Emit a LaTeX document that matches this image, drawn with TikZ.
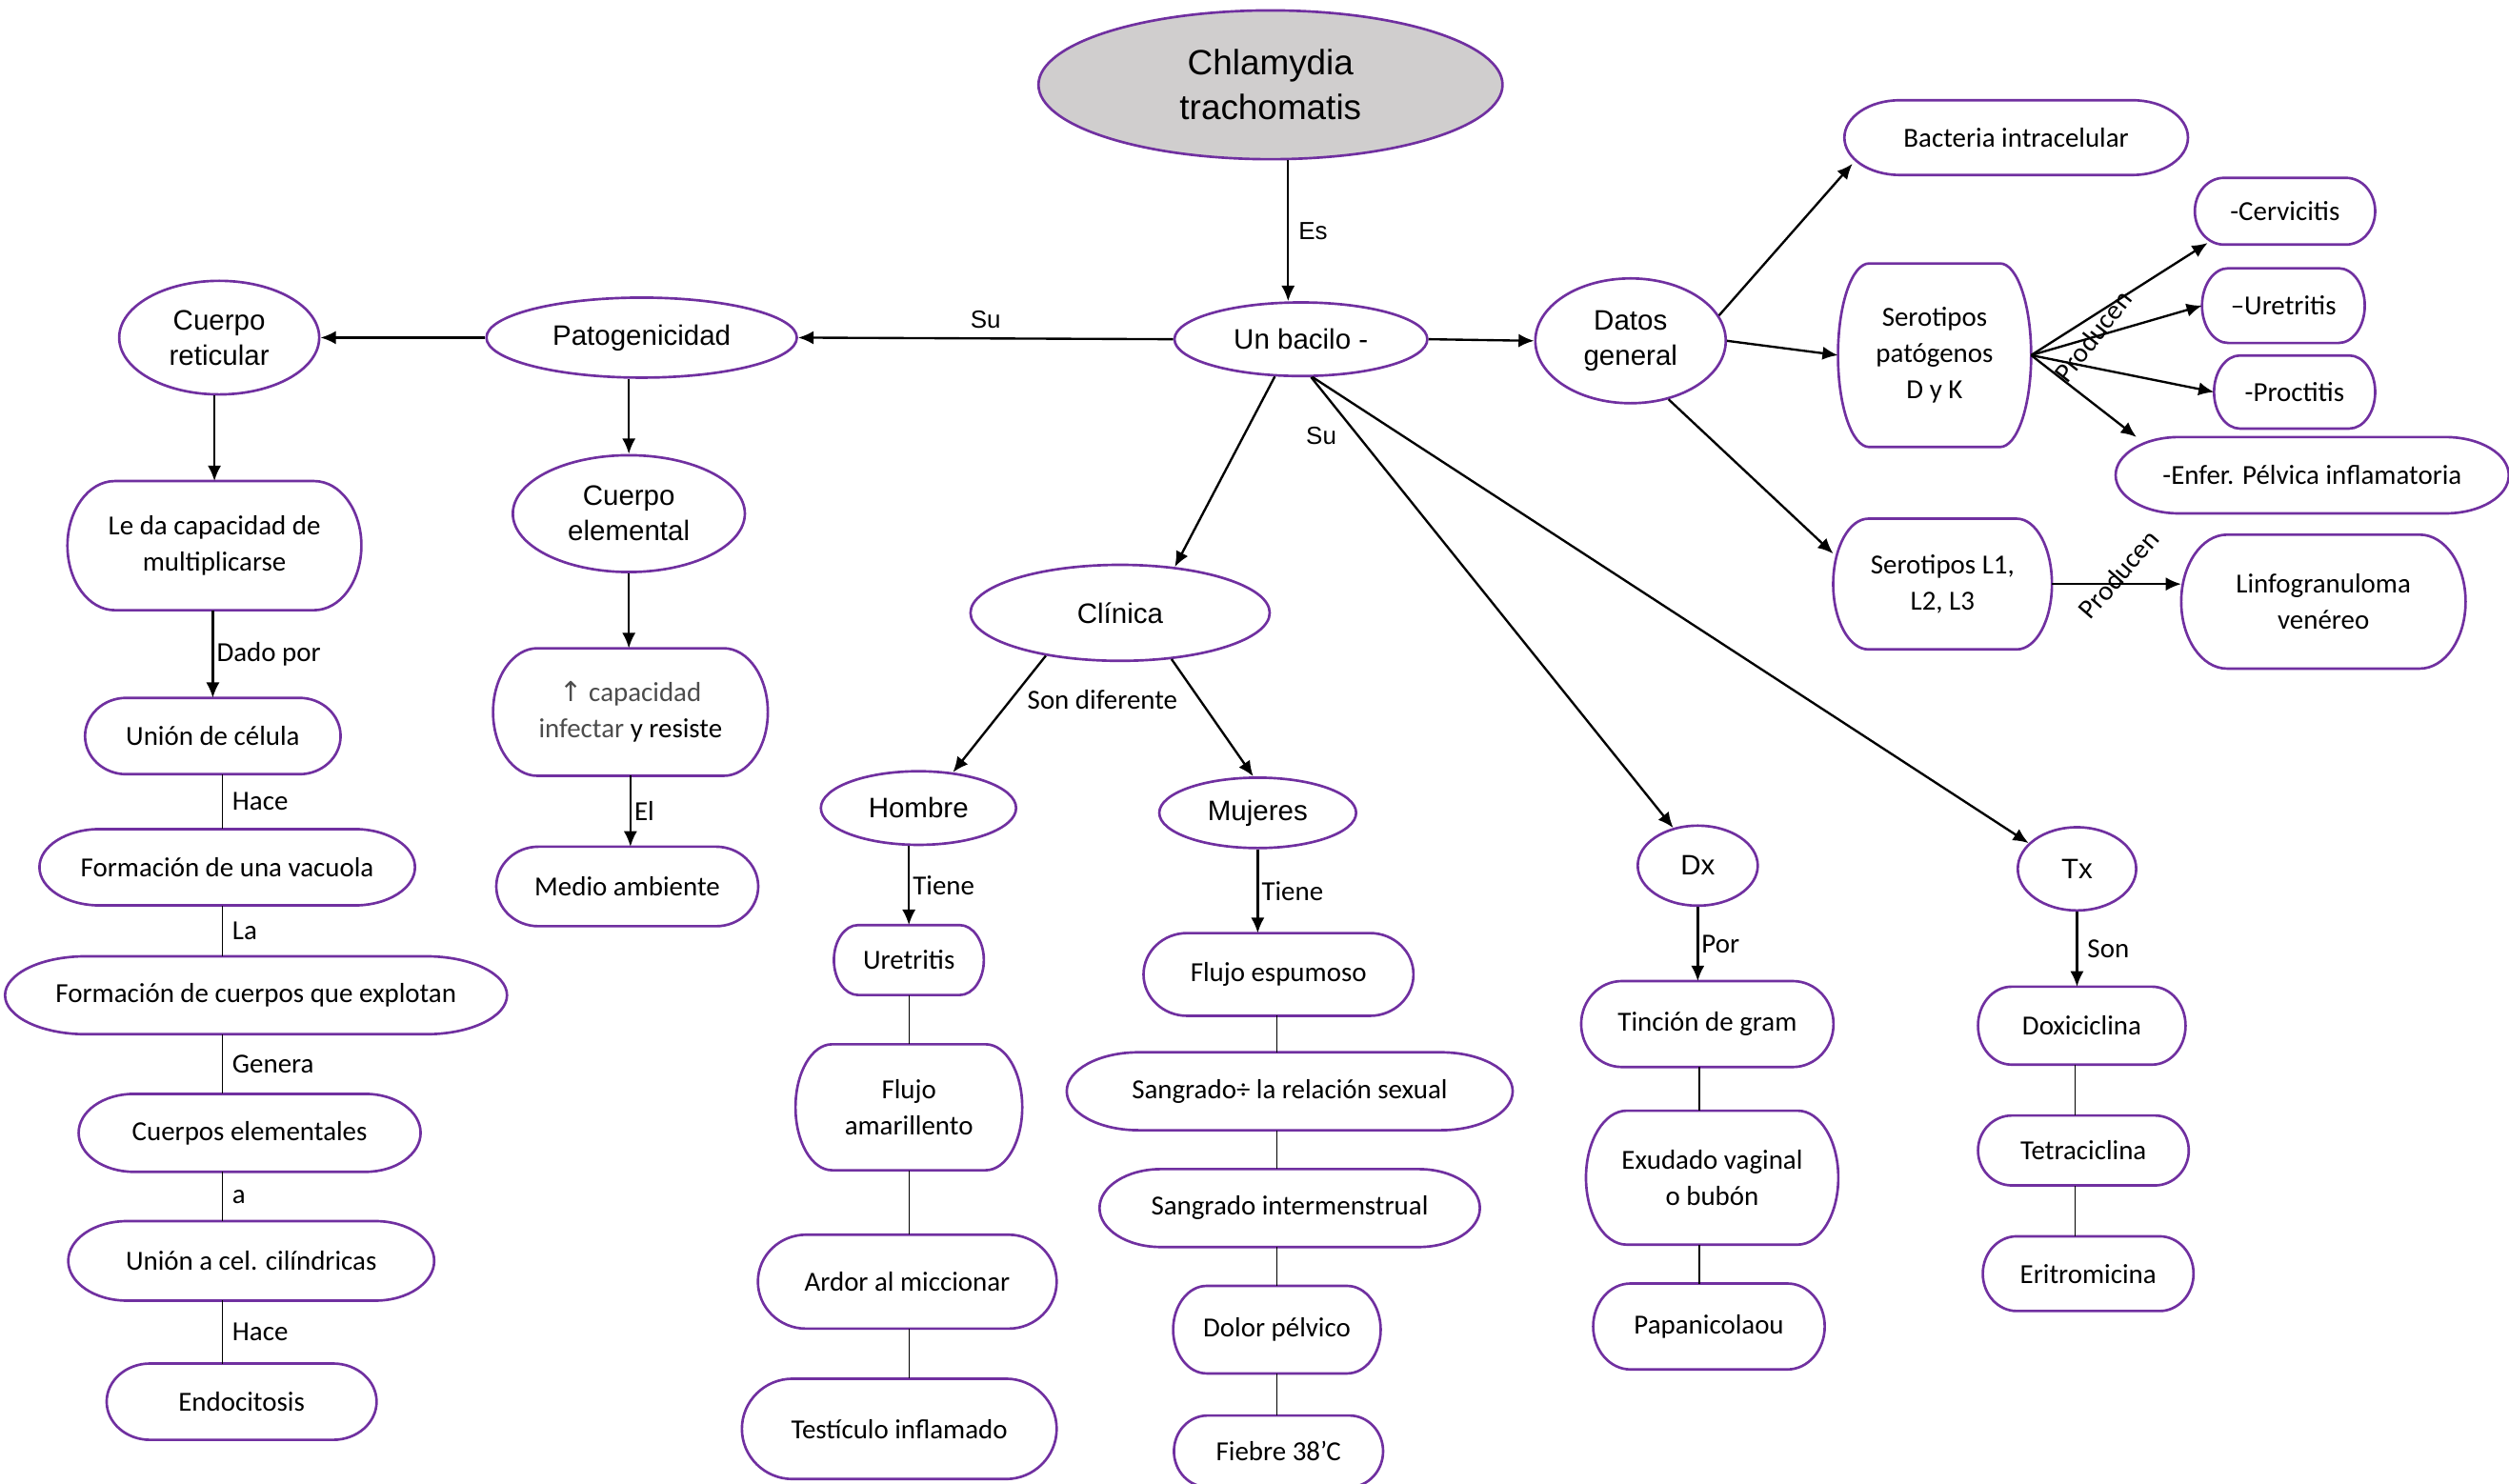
\documentclass[tikz,border=0pt]{standalone}
\usepackage{fontspec}
\setmainfont{Carlito}
\newfontfamily\arialf{Liberation Sans}
\newfontfamily\symf{DejaVu Sans}
\usetikzlibrary{shapes.geometric,calc,arrows.meta}
\definecolor{violeta}{RGB}{112,48,160}
\definecolor{gristit}{RGB}{208,206,206}

\begin{document}
\begin{tikzpicture}[
x=0.02cm, y=-0.02cm,
ell/.style 2 args={
  ellipse,
  draw=violeta,
  line width=0.9pt,
  inner sep=0pt,
  align=center,
  minimum width=#1*0.02cm,
  minimum height=#2*0.02cm,
  font=\arialf\fontsize{10}{12.5}\selectfont
  },
term/.style 2 args={
  rectangle,
  inner sep=0pt,
  align=center,
  minimum width=#1*0.02cm,
  minimum height=#2*0.02cm,
  font=\fontsize{9.8}{13}\selectfont
  },
borde/.style={draw=violeta, line width=0.9pt},
flecha/.style={->, line width=0.8pt},
enlace/.style={line width=0.4pt},
etiq/.style={font=\fontsize{9.8}{12}\selectfont},
etiqa/.style={font=\arialf\fontsize{8.8}{10}\selectfont},
>={Latex[length=5.5pt,width=4.8pt]}
]
\useasboundingbox (0,0) rectangle (1568,927);

% ellipses
\node[ell={290}{93}, fill=gristit, font=\arialf\fontsize{12.5}{15.8}\selectfont]
  (chlam) at (794,53) {Chlamydia\\trachomatis};
\node[ell={158}{46}] (bacilo) at (813,212) {Un bacilo -};
\node[ell={119}{78}] (datos) at (1019,213) {Datos\\general};
\node[ell={194}{50}] (patog) at (401,211) {Patogenicidad};
\node[ell={125}{71}] (reticular) at (137,211) {Cuerpo\\reticular};
\node[ell={145}{73}] (cuerel) at (393,321) {Cuerpo\\elemental};
\node[ell={187}{60}] (clinica) at (700,383) {Clínica};
\node[ell={122}{46}] (hombre) at (574,505) {Hombre};
\node[ell={123}{44}] (mujeres) at (786,508) {Mujeres};
\node[ell={75}{50}] (dx) at (1061,541) {Dx};
\node[ell={74}{52}] (tx) at (1298,543) {Tx};

% cajas
\node[term={214}{46}] (bact) at (1260,86) {Bacteria intracelular};
\node[term={120}{114}] (serdk) at (1209,222) {Serotipos\\patógenos\\D y K};
\node[term={112}{41}] (cerv) at (1428,132) {-Cervicitis};
\node[term={101}{46}] (uret2) at (1427,191) {–Uretritis};
\node[term={100}{45}] (proct) at (1434,245) {-Proctitis};
\node[term={245}{47}] (enfer) at (1445,297) {-Enfer. Pélvica inflamatoria};
\node[term={136}{81}] (serl) at (1214,365) {Serotipos L1,\\L2, L3};
\node[term={177}{83}] (linfo) at (1452,376) {Linfogranuloma\\venéreo};
\node[term={183}{80}] (multi) at (134,341) {Le da capacidad de\\multiplicarse};
\node[term={159}{47}] (ucel) at (133,460) {Unión de célula};
\node[term={234}{47}] (vacuola) at (142,542) {Formación de una vacuola};
\node[term={313}{48}] (explot) at (160,622) {Formación de cuerpos que explotan};
\node[term={213}{48}] (cuerpos) at (156,708) {Cuerpos elementales};
\node[term={228}{49}] (ucil) at (157,788) {Unión a cel. cilíndricas};
\node[term={168}{47}] (endoc) at (151,876) {Endocitosis};
\node[term={171}{79}] (infect) at (394,445)
  {\textcolor{black!70}{{\symf↑} capacidad}\\\textcolor{black!70}{infectar} y resiste};
\node[term={163}{49}] (medio) at (392,554) {Medio ambiente};
\node[term={93}{43}] (ureth) at (568,600) {Uretritis};
\node[term={141}{78}] (flujoam) at (568,692) {Flujo\\amarillento};
\node[term={186}{58}] (ardor) at (567,801) {Ardor al miccionar};
\node[term={196}{62}] (testic) at (562,893) {Testículo inflamado};
\node[term={168}{51}] (flujoes) at (799,609) {Flujo espumoso};
\node[term={278}{48}] (sangrel) at (806,682) {Sangrado÷ la relación sexual};
\node[term={237}{48}] (sangint) at (806,755) {Sangrado intermenstrual};
\node[term={129}{54}] (dolor) at (798,831) {Dolor pélvico};
\node[term={130}{44}] (fiebre) at (799,907) {Fiebre 38’C};
\node[term={157}{53}] (tincion) at (1067,640) {Tinción de gram};
\node[term={157}{83}] (exudado) at (1070,736) {Exudado vaginal\\o bubón};
\node[term={144}{53}] (papa) at (1068,829) {Papanicolaou};
\node[term={129}{48}] (doxi) at (1301,641) {Doxiciclina};
\node[term={131}{43}] (tetra) at (1302,719) {Tetraciclina};
\node[term={131}{46}] (eritro) at (1305,796) {Eritromicina};

\foreach \bx in {bact,serdk,cerv,uret2,proct,enfer,serl,linfo,multi,ucel,vacuola,
    explot,cuerpos,ucil,endoc,infect,medio,ureth,flujoam,ardor,testic,flujoes,
    sangrel,sangint,dolor,fiebre,tincion,exudado,papa,doxi,tetra,eritro}
  \draw[borde] let \p1=(\bx.north east), \p2=(\bx.south west),
    \n1={0.161*(\x1-\x2)}, \n2={0.5*(\y1-\y2)} in
    ($(\bx.north west)+(\n1,0pt)$) -- ($(\bx.north east)-(\n1,0pt)$)
    arc[start angle=90, end angle=-90, x radius=\n1, y radius=\n2]
    -- ($(\bx.south west)+(\n1,0pt)$)
    arc[start angle=270, end angle=90, x radius=\n1, y radius=\n2]
    -- cycle;

\coordinate (coles) at (805,0);
\coordinate (colizq) at (139,0);
\coordinate (colhom) at (568,0);
\coordinate (colmuj) at (798,0);
\coordinate (coldx) at (1062,0);
\coordinate (coltx) at (1297,0);

% centro
\draw[flecha] (chlam.south -| coles) -- (bacilo.north -| coles)
  node[etiqa, midway, right] {Es};
\draw[flecha] (bacilo.west) -- (patog.east) node[etiqa, midway, above] {Su};
\draw[flecha] (bacilo.east) -- (datos.west);
\draw[flecha] (bacilo.235) -- (clinica.40);
\draw[flecha] (bacilo.285) -- (dx.123) node[etiqa, pos=0.13, left=4pt] {Su};
\draw[flecha] (bacilo.287) -- (tx.152);

% patogenicidad
\draw[flecha] (patog.west) -- (reticular.east);
\draw[flecha] (reticular.south -| multi.north) -- (multi.north);
\draw[flecha] (multi.south -| ucel.north) -- (ucel.north)
  node[etiq, midway, right, inner sep=1pt] {Dado por};
\draw[flecha] (patog.south -| cuerel.north) -- (cuerel.north);
\draw[flecha] (cuerel.south) -- (cuerel.south |- infect.north);
\draw[flecha] (infect.south) -- (infect.south |- medio.north)
  node[etiq, midway, right, inner sep=1pt] {El};
\foreach \a/\b/\t in {ucel/vacuola/Hace, vacuola/explot/La, explot/cuerpos/Genera,
    cuerpos/ucil/a, ucil/endoc/Hace}
  \draw[enlace] (\a.south -| colizq) -- (\b.north -| colizq)
    node[etiq, midway, right] {\t};

% datos generales
\draw[flecha] (datos.16) -- ($(bact.south west)+(5,-7)$);
\draw[flecha] (datos.east) -- (serdk.west);
\draw[flecha] (datos.303) -- ($(serl.west)+(0,-19)$);
\draw[flecha] (serdk.east) -- ($(cerv.south west)+(8,-1)$);
\draw[flecha] (serdk.east) -- (uret2.west);
\draw[flecha] (serdk.east) -- (proct.west);
\draw[flecha] (serdk.east) -- ($(enfer.north west)+(13,0)$);
\draw[flecha] (serl.east) -- (serl.east -| linfo.west);
\node[etiq, rotate=52] (prod1) at (1308,210) {Producen};
\node[etiq, rotate=49] (prod2) at (1324,359) {Producen};

% clinica
\draw[flecha] (clinica.210) -- (hombre.46);
\draw[flecha] (clinica.318) -- (mujeres.97);
\node[etiq] (sondif) at (689,437) {Son diferente};
\draw[flecha] (hombre.south -| ureth.north) -- (ureth.north)
  node[etiq, midway, right, inner sep=1pt] {Tiene};
\draw[flecha] (mujeres.south) -- (mujeres.south |- flujoes.north)
  node[etiq, midway, right, inner sep=1pt] {Tiene};

% dx y tx
\draw[flecha] (dx.south) -- (dx.south |- tincion.north)
  node[etiq, midway, right, inner sep=1pt] {Por};
\draw[flecha] (tx.south) -- (tx.south |- doxi.north)
  node[etiq, midway, right] {Son};

\foreach \a/\b/\c in {ureth/flujoam/colhom, flujoam/ardor/colhom, ardor/testic/colhom,
    flujoes/sangrel/colmuj, sangrel/sangint/colmuj, sangint/dolor/colmuj,
    dolor/fiebre/colmuj, tincion/exudado/coldx, exudado/papa/coldx,
    doxi/tetra/coltx, tetra/eritro/coltx}
  \draw[enlace] (\a.south -| \c) -- (\b.north -| \c);
\end{tikzpicture}
\end{document}
